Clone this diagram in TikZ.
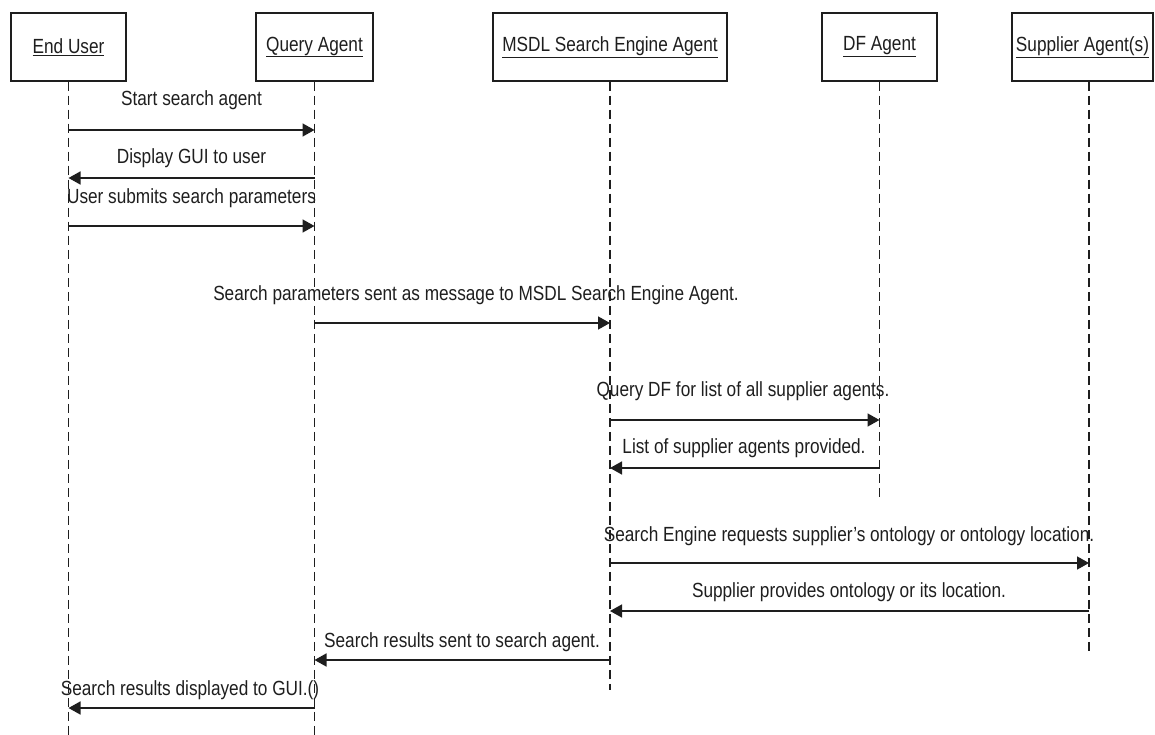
\documentclass[tikz,border=0pt]{standalone}
\usepackage{fontspec}
\setmainfont{Liberation Sans}[FakeStretch=0.84]
\usetikzlibrary{arrows.meta}
\definecolor{ink}{HTML}{1E1E1E}
\tikzset{
  actor/.style={draw=ink, line width=1.5pt, fill=white, minimum height=68pt, inner sep=0pt, text=ink, font=\fontsize{20.5}{24}\selectfont},
  life/.style={draw=ink, line width=1.2pt, dash pattern=on 9pt off 5pt},
  msg/.style={draw=ink, line width=1.6pt, -{Triangle[length=12pt,width=13pt]}},
  lbl/.style={inner sep=0pt, text=ink, font=\fontsize{20.5}{24}\selectfont}
}
\begin{document}
\begin{tikzpicture}[x=1pt,y=-1pt]
\useasboundingbox (0,0) rectangle (1155,735);
% actors
\node[actor, minimum width=115pt] (eu) at (68.5,47) {\underline{End User}};
\node[actor, minimum width=117pt] (qa) at (314.5,47) {\underline{Query Agent}};
\node[actor, minimum width=234pt] (ms) at (610,47) {\underline{MSDL Search Engine Agent}};
\node[actor, minimum width=115pt] (df) at (879.5,47) {\underline{DF Agent}};
\node[actor, minimum width=141pt] (sa) at (1082.5,47) {\underline{Supplier Agent(s)}};
% lifelines
\coordinate (euE) at (68,735);
\coordinate (qaE) at (315,735);
\coordinate (msE) at (610,690);
\coordinate (dfE) at (879,497);
\coordinate (saE) at (1089,652);
\draw[life] (eu.south) -- (eu.south |- euE);
\draw[life] (qa.south) -- (qa.south |- qaE);
\draw[life] (ms.south) -- (ms.south |- msE);
\draw[life] (df.south) -- (df.south |- dfE);
\draw[life] (saE |- sa.south) -- (saE);
% messages
\draw[msg] (eu.south |- 0,130) -- (qa.south |- 0,130);
\node[lbl] (m1) at (191.5,100) {Start search agent};
\draw[msg] (qa.south |- 0,178) -- (eu.south |- 0,178);
\node[lbl] (m2) at (191.5,158) {Display GUI to user};
\draw[msg] (eu.south |- 0,226) -- (qa.south |- 0,226);
\node[lbl] (m3) at (191.5,198) {User submits search parameters};
\draw[msg] (qa.south |- 0,323) -- (ms.south |- 0,323);
\node[lbl] (m4) at (476,295) {Search parameters sent as message to MSDL Search Engine Agent.};
\draw[msg] (ms.south |- 0,420) -- (df.south |- 0,420);
\node[lbl] (m5) at (743,391) {Query DF for list of all supplier agents.};
\draw[msg] (df.south |- 0,468) -- (ms.south |- 0,468);
\node[lbl] (m6) at (744,448) {List of supplier agents provided.};
\draw[msg] (ms.south |- 0,563) -- (saE |- 0,563);
\node[lbl] (m7) at (849,536) {Search Engine requests supplier's ontology or ontology location.};
\draw[msg] (saE |- 0,611) -- (ms.south |- 0,611);
\node[lbl] (m8) at (849,592) {Supplier provides ontology or its location.};
\draw[msg] (ms.south |- 0,660) -- (qa.south |- 0,660);
\node[lbl] (m9) at (462,642) {Search results sent to search agent.};
\draw[msg] (qa.south |- 0,708) -- (eu.south |- 0,708);
\node[lbl] (m10) at (190,690) {Search results displayed to GUI.()};
\end{tikzpicture}
\end{document}
